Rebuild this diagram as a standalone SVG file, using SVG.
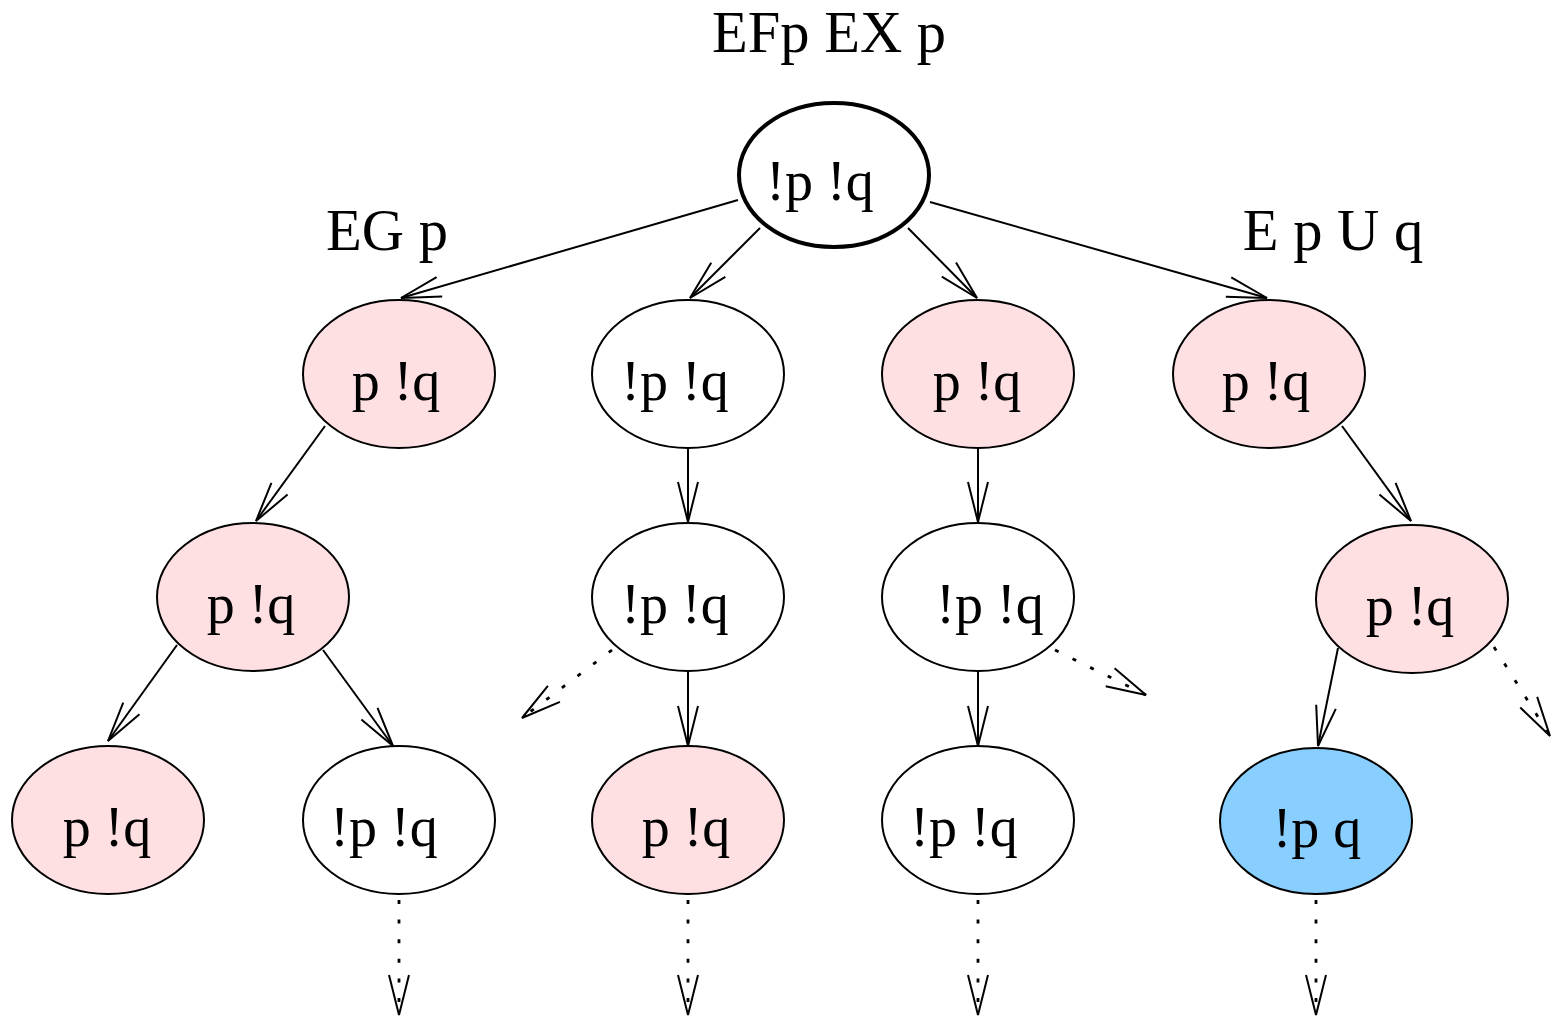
<svg xmlns="http://www.w3.org/2000/svg" width="1554" height="1017" viewBox="0 0 1554 1017">
<style>
.n{stroke:#000;stroke-width:2}
.root{stroke-width:4}
.pink{fill:#ffe0e2}
.white{fill:#fff}
.blue{fill:#88cfff}
text{font-family:"Liberation Serif","Times New Roman",serif;font-size:56px;fill:#000;text-anchor:middle}
.lbl{font-size:58.5px}
.e{stroke:#000;stroke-width:2;fill:none}
.d{stroke-dasharray:4,15.6;stroke-width:2.8}
</style>
<defs>
<marker id="a" markerUnits="userSpaceOnUse" markerWidth="50" markerHeight="30" viewBox="-45,-15,50,30" refX="0" refY="0" orient="auto" overflow="visible">
<path d="M-40,-10 L0,0 L-40,10" fill="none" stroke="#000" stroke-width="2"/>
</marker>
</defs>
<rect width="1554" height="1017" fill="#fff"/>
<g id="labels">
<text class="lbl" x="829" y="52">EFp EX p</text>
<text class="lbl" x="387" y="250">EG p</text>
<text class="lbl" x="1333" y="250">E p U q</text>
</g>
<g id="connectors">
<line class="e" x1="738" y1="200" x2="401" y2="298" marker-end="url(#a)"/>
<line class="e" x1="760" y1="228" x2="690" y2="298" marker-end="url(#a)"/>
<line class="e" x1="908" y1="228" x2="977" y2="298" marker-end="url(#a)"/>
<line class="e" x1="930" y1="202" x2="1267" y2="298" marker-end="url(#a)"/>
<line class="e" x1="325" y1="426" x2="256" y2="521" marker-end="url(#a)"/>
<line class="e" x1="688" y1="448" x2="688" y2="522" marker-end="url(#a)"/>
<line class="e" x1="978" y1="448" x2="978" y2="522" marker-end="url(#a)"/>
<line class="e" x1="1342" y1="426" x2="1411" y2="521" marker-end="url(#a)"/>
<line class="e" x1="177" y1="645" x2="108" y2="741" marker-end="url(#a)"/>
<line class="e" x1="323" y1="650" x2="393" y2="746" marker-end="url(#a)"/>
<line class="e" x1="688" y1="671" x2="688" y2="746" marker-end="url(#a)"/>
<line class="e" x1="978" y1="671" x2="978" y2="746" marker-end="url(#a)"/>
<line class="e" x1="1338" y1="648" x2="1318" y2="746" marker-end="url(#a)"/>
<line class="e d" x1="612" y1="650" x2="522" y2="718" marker-end="url(#a)"/>
<line class="e d" x1="1055" y1="650" x2="1146" y2="695" marker-end="url(#a)"/>
<line class="e d" x1="1494" y1="647" x2="1550" y2="736" marker-end="url(#a)"/>
<line class="e d" x1="399" y1="900" x2="399" y2="1015" marker-end="url(#a)"/>
<line class="e d" x1="688" y1="900" x2="688" y2="1015" marker-end="url(#a)"/>
<line class="e d" x1="978" y1="900" x2="978" y2="1015" marker-end="url(#a)"/>
<line class="e d" x1="1316" y1="900" x2="1316" y2="1015" marker-end="url(#a)"/>
</g>
<g id="n0"><ellipse class="n root white" cx="834" cy="175" rx="95" ry="72"/><text x="820" y="200">!p !q</text></g>
<g id="n1"><ellipse class="n pink" cx="399" cy="374" rx="96" ry="74"/><text x="396" y="400">p !q</text></g>
<g id="n2"><ellipse class="n white" cx="688" cy="374" rx="96" ry="74"/><text x="675" y="400">!p !q</text></g>
<g id="n3"><ellipse class="n pink" cx="978" cy="374" rx="96" ry="74"/><text x="977" y="400">p !q</text></g>
<g id="n4"><ellipse class="n pink" cx="1269" cy="374" rx="96" ry="74"/><text x="1266" y="400">p !q</text></g>
<g id="n5"><ellipse class="n pink" cx="253" cy="597" rx="96" ry="74"/><text x="251" y="623">p !q</text></g>
<g id="n6"><ellipse class="n white" cx="688" cy="597" rx="96" ry="74"/><text x="675" y="623">!p !q</text></g>
<g id="n7"><ellipse class="n white" cx="978" cy="597" rx="96" ry="74"/><text x="990" y="623">!p !q</text></g>
<g id="n8"><ellipse class="n pink" cx="1412" cy="599" rx="96" ry="74"/><text x="1410" y="625">p !q</text></g>
<g id="n9"><ellipse class="n pink" cx="108" cy="820" rx="96" ry="74"/><text x="107" y="846">p !q</text></g>
<g id="n10"><ellipse class="n white" cx="399" cy="820" rx="96" ry="74"/><text x="384" y="846">!p !q</text></g>
<g id="n11"><ellipse class="n pink" cx="688" cy="820" rx="96" ry="74"/><text x="686" y="846">p !q</text></g>
<g id="n12"><ellipse class="n white" cx="978" cy="820" rx="96" ry="74"/><text x="964" y="846">!p !q</text></g>
<g id="n13"><ellipse class="n blue" cx="1316" cy="821" rx="96" ry="73"/><text x="1317" y="847">!p q</text></g>
</svg>
